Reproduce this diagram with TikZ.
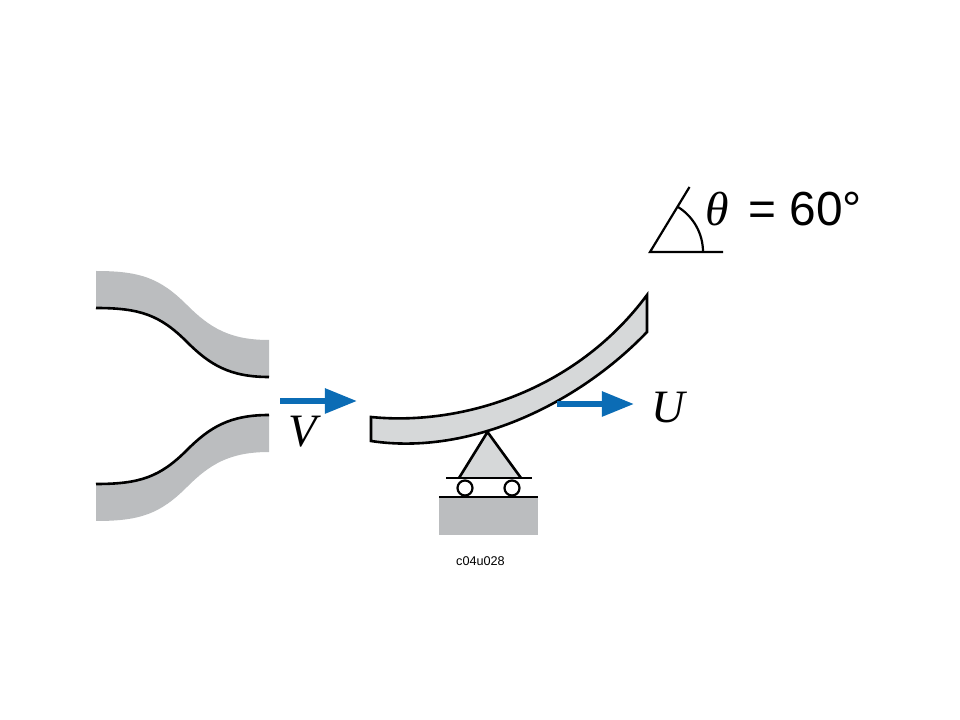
\documentclass[tikz,border=0pt]{standalone}
\usepackage{fontspec}
\setmainfont{Liberation Serif}
\setsansfont{Liberation Sans}
\usetikzlibrary{arrows.meta}
\definecolor{bandgray}{HTML}{BBBDBF}
\definecolor{bladegray}{HTML}{D6D8D9}
\definecolor{flowblue}{HTML}{0B6CB5}
\begin{document}
\begin{tikzpicture}[
    x=0.025cm, y=-0.025cm,
    band/.style={fill=bandgray, draw=none},
    edge/.style={draw=black, line width=0.065cm},
    thinedge/.style={draw=black, line width=0.055cm},
    flow/.style={draw=flowblue, line width=0.14cm, -{Triangle[length=0.8cm, width=0.6cm]}},
    symbol/.style={font=\fontsize{33}{36}\selectfont\itshape, inner sep=0pt}
]
    \useasboundingbox (0,0) rectangle (960,720);

    % Upper nozzle wall
    \fill[band] (96,271) .. controls (140,271) and (160,278) .. (187,305) .. controls (210,328) and (230,340) .. (269,340)
        -- (269,377) .. controls (230,377) and (210,365) .. (187,342) .. controls (160,315) and (140,308) .. (96,308) -- cycle;
    \draw[edge] (96,308) .. controls (140,308) and (160,315) .. (187,342) .. controls (210,365) and (230,377) .. (269,377);

    % Lower nozzle wall
    \fill[band] (96,521) .. controls (140,521) and (160,514) .. (187,487) .. controls (210,464) and (230,452) .. (269,452)
        -- (269,415) .. controls (230,415) and (210,427) .. (187,450) .. controls (160,477) and (140,484) .. (96,484) -- cycle;
    \draw[edge] (96,484) .. controls (140,484) and (160,477) .. (187,450) .. controls (210,427) and (230,415) .. (269,415);

    % Jet velocity
    \coordinate (v_start) at (280,401);
    \coordinate (v_end) at (357,401);
    \draw[flow] (v_start) -- (v_end);
    \node[symbol] (v_label) at (303,432) {V};

    % Blade
    \draw[edge, fill=bladegray, line join=miter] (371,417) .. controls (460,426) and (575,392) .. (647,295)
        -- (647,332) .. controls (578,404) and (470,456) .. (371,441) -- cycle;

    % Blade velocity
    \coordinate (u_start) at (557,404);
    \coordinate (u_end) at (634,404);
    \draw[flow] (u_start) -- (u_end);
    \node[symbol] (u_label) at (668,408) {U};

    % Support and rollers
    \coordinate (apex) at (487.5,432);
    \coordinate (base_l) at (459,478);
    \coordinate (base_r) at (521,478);
    \draw[edge, fill=bladegray] (base_l) -- (apex) -- (base_r);
    \draw[thinedge] (446,478) -- (532,478);
    \draw[thinedge, fill=white] (465,488) circle (7.5);
    \draw[thinedge, fill=white] (512,488) circle (7.5);
    \fill[band] (439,497) rectangle (538,535);
    \draw[edge] (439,497) -- (538,497);

    % Angle sketch
    \coordinate (ang_o) at (650,252);
    \coordinate (ang_x) at (723,252);
    \coordinate (ang_t) at (689.5,187);
    \draw[thinedge] (ang_x) -- (ang_o) -- (ang_t);
    \draw[thinedge] (703,252) arc[start angle=0, end angle=-58, radius=53];
    \node[anchor=base west, inner sep=0pt, font=\fontsize{34}{36}\selectfont] (angle_label) at (705,226)
        {\textit{θ}\hspace{14pt}{\sffamily = 60°}};

    % Figure tag
    \node[font=\fontsize{9}{11}\selectfont\sffamily, inner sep=0pt] (tag) at (480.5,561.5) {c04u028};
\end{tikzpicture}
\end{document}
